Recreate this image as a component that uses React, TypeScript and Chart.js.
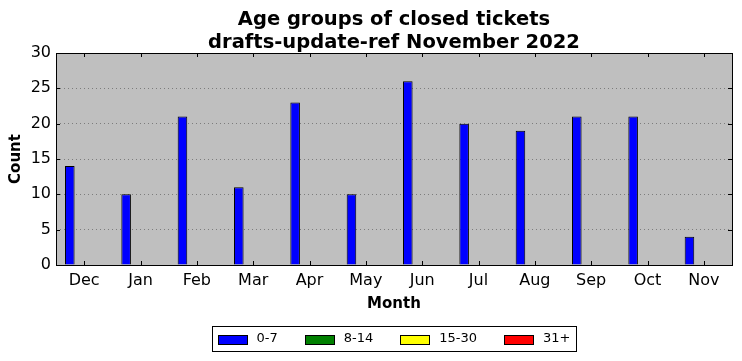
import React, { useEffect, useRef } from "react";
import { Chart, registerables } from "chart.js";

Chart.register(...registerables);

const titleLines = ["Age groups of closed tickets", "drafts-update-ref November 2022"];
const months = ["Dec", "Jan", "Feb", "Mar", "Apr", "May", "Jun", "Jul", "Aug", "Sep", "Oct", "Nov"];
const seriesNames = ["0-7", "8-14", "15-30", "31+"];
const seriesColors = ["#0000ff", "#008000", "#ffff00", "#ff0000"];
const age0to7 = [14, 10, 21, 11, 23, 10, 26, 20, 19, 21, 21, 4];
const age8to14 = [0, 0, 0, 0, 0, 0, 0, 0, 0, 0, 0, 0];
const age15to30 = [0, 0, 0, 0, 0, 0, 0, 0, 0, 0, 0, 0];
const age31plus = [0, 0, 0, 0, 0, 0, 0, 0, 0, 0, 0, 0];
const yMin = 0;
const yMax = 30;
const yStep = 5;

const FONT = "'DejaVu Sans', sans-serif";

const framePlugin = {
  id: "framePlugin",
  beforeDraw(chart: any) {
    const { ctx, chartArea } = chart;
    ctx.save();
    ctx.fillStyle = "#ffffff";
    ctx.fillRect(0, 0, chart.width, chart.height);
    ctx.fillStyle = "#bfbfbf";
    ctx.fillRect(chartArea.left, chartArea.top, chartArea.right - chartArea.left, chartArea.bottom - chartArea.top);
    ctx.restore();
  },
  afterDraw(chart: any) {
    const { ctx, chartArea } = chart;
    const x = chart.scales.x;
    const y = chart.scales.y;
    const cx = (chartArea.left + chartArea.right) / 2;
    ctx.save();
    // title
    ctx.fillStyle = "#000000";
    ctx.font = `bold 19.5px ${FONT}`;
    ctx.textAlign = "center";
    ctx.textBaseline = "alphabetic";
    titleLines.forEach((line, i) => {
      ctx.fillText(line, cx, 25 + i * 23);
    });
    ctx.strokeStyle = "#000000";
    ctx.lineWidth = 1;
    // inner ticks
    ctx.beginPath();
    x.ticks.forEach((_t: any, i: number) => {
      const px = Math.round(x.getPixelForTick(i)) + 0.5;
      ctx.moveTo(px, chartArea.bottom);
      ctx.lineTo(px, chartArea.bottom - 4);
      ctx.moveTo(px, chartArea.top);
      ctx.lineTo(px, chartArea.top + 4);
    });
    y.ticks.forEach((_t: any, i: number) => {
      const py = Math.round(y.getPixelForTick(i)) + 0.5;
      ctx.moveTo(chartArea.left, py);
      ctx.lineTo(chartArea.left + 4, py);
      ctx.moveTo(chartArea.right, py);
      ctx.lineTo(chartArea.right - 4, py);
    });
    ctx.stroke();
    // frame
    ctx.strokeRect(
      Math.round(chartArea.left) + 0.5,
      Math.round(chartArea.top) + 0.5,
      Math.round(chartArea.right - chartArea.left),
      Math.round(chartArea.bottom - chartArea.top)
    );
    // legend
    const fontSize = 13;
    ctx.font = `${fontSize}px ${FONT}`;
    const sw = 29;
    const sh = 9;
    const gapText = 10;
    const gapItem = 27;
    const padL = 5;
    const padR = 6;
    const widths = seriesNames.map((n) => ctx.measureText(n).width);
    let total = padL + padR;
    widths.forEach((w, i) => {
      total += sw + gapText + w + (i < widths.length - 1 ? gapItem : 0);
    });
    const boxL = Math.round(cx - total / 2) + 0.5;
    const boxT = 326.5;
    const boxH = 25;
    ctx.fillStyle = "#ffffff";
    ctx.fillRect(boxL, boxT, total, boxH);
    ctx.strokeRect(boxL, boxT, Math.round(total), boxH);
    let xx = boxL + padL;
    const midY = boxT + boxH / 2;
    seriesNames.forEach((n, i) => {
      ctx.fillStyle = seriesColors[i];
      const sx = Math.round(xx) + 0.5;
      const sy = Math.round(midY - sh / 2) + 0.5;
      ctx.fillRect(sx, sy, sw, sh);
      ctx.strokeStyle = "#000000";
      ctx.strokeRect(sx, sy, sw, sh);
      ctx.fillStyle = "#000000";
      ctx.textBaseline = "middle";
      ctx.textAlign = "left";
      ctx.fillText(n, xx + sw + gapText, midY);
      xx += sw + gapText + widths[i] + gapItem;
    });
    ctx.restore();
  },
};

export default function App() {
  const ref = useRef<HTMLCanvasElement | null>(null);
  useEffect(() => {
    document.body.style.margin = "0";
    const values = [age0to7, age8to14, age15to30, age31plus];
    const chart = new Chart(ref.current as HTMLCanvasElement, {
      type: "bar",
      data: {
        labels: months,
        datasets: seriesNames.map((name, i) => ({
          label: name,
          data: values[i],
          backgroundColor: seriesColors[i],
          borderColor: "#000000",
          borderWidth: 1,
          borderSkipped: "start",
          categoryPercentage: 0.68,
          barPercentage: 1.0,
        })),
      },
      options: {
        animation: false,
        responsive: false,
        maintainAspectRatio: false,
        layout: { padding: { left: 0, right: 10, top: 53, bottom: 46 } },
        plugins: {
          legend: { display: false },
          tooltip: { enabled: false },
          title: { display: false },
        },
        scales: {
          x: {
            grid: { display: false, drawTicks: false },
            border: { display: false },
            ticks: { color: "#000000", font: { family: FONT, size: 16 }, padding: 6, maxRotation: 0 },
            title: {
              display: true,
              text: "Month",
              color: "#000000",
              font: { family: FONT, size: 15, weight: "bold" },
              padding: { top: 0, bottom: 2 },
            },
            afterFit: (s: any) => {
              s.height = 50;
            },
          },
          y: {
            min: yMin,
            max: yMax,
            grid: {
              drawTicks: false,
              color: (c: any) => (c.tick && (c.tick.value === yMin || c.tick.value === yMax) ? "rgba(0,0,0,0)" : "rgba(0,0,0,0.35)"),
              lineWidth: 1,
            },
            border: { display: false, dash: [1, 3] },
            ticks: { stepSize: yStep, color: "#000000", font: { family: FONT, size: 16 }, padding: 5 },
            title: {
              display: true,
              text: "Count",
              color: "#000000",
              font: { family: FONT, size: 15, weight: "bold" },
              padding: { top: 7, bottom: 0 },
            },
            afterFit: (s: any) => {
              s.width = 56;
            },
          },
        },
      } as any,
      plugins: [framePlugin],
    });
    return () => chart.destroy();
  }, []);
  return (
    <div style={{ position: "absolute", left: 0, top: 0, width: 742, height: 361 }}>
      <canvas ref={ref} width={742} height={361} style={{ width: 742, height: 361, display: "block" }} />
    </div>
  );
}
